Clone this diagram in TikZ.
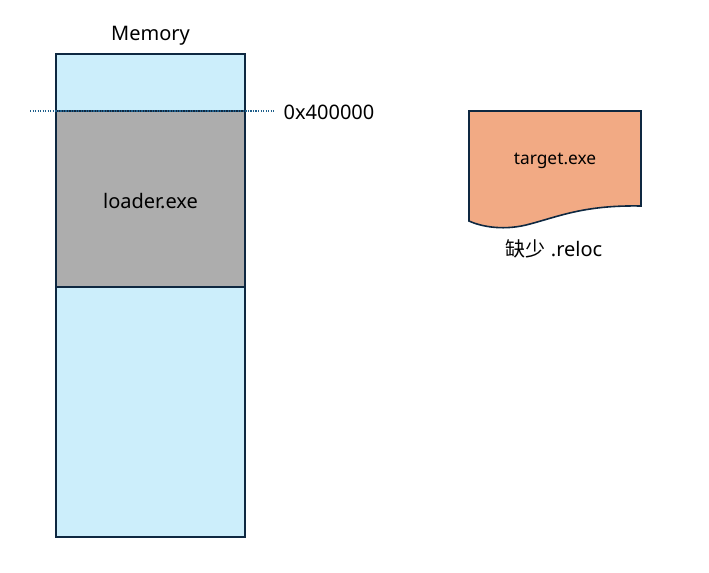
\documentclass[tikz,border=0pt]{standalone}
\usepackage{fontspec}
\setmainfont{Noto Sans}
\newfontfamily\cjk{Noto Sans CJK SC}
\usetikzlibrary{calc}
\definecolor{memblue}{HTML}{CCEEFB}
\definecolor{memgray}{HTML}{ADADAD}
\definecolor{edge}{HTML}{0E2841}
\definecolor{docorange}{HTML}{F2AA84}
\definecolor{dotblue}{HTML}{1F5F8B}

\begin{document}
\begin{tikzpicture}[x=0.75pt, y=-0.75pt]
%styles
\tikzstyle{textw}=[rectangle, text=black, font=\fontsize{15}{18}\selectfont]
\tikzstyle{textdoc}=[rectangle, text=black, font=\fontsize{13}{16}\selectfont]
\tikzstyle{block}=[draw=edge, line width=1.2pt]
\tikzstyle{marker}=[dotblue, densely dotted, line width=0.9pt]

\useasboundingbox (0,0) rectangle (709,573);

%memory column
\coordinate (m0) at (56,54);
\coordinate (m1) at (245,537);
\coordinate (g0) at (56,111);
\coordinate (g1) at (245,287);
\fill[memblue] (m0) rectangle (m1);
\fill[memgray] (g0) rectangle (g1);
\draw[block] (g0) -- (g0 -| m1);
\draw[block] (g1) -- (g1 -| m0);
\draw[block] (m0) rectangle (m1);

%base address
\coordinate (d0) at (30,111);
\coordinate (d1) at (274,111);
\draw[marker] (d0) -- (d1);

%target file
\filldraw[block, fill=docorange] (469,111) -- (641,111) -- (641,206)
  .. controls (585,205) and (560,216) .. (530,224)
  .. controls (505,231) and (482,227) .. (469,221) -- cycle;

%texts
\node[textw] (mem) at ($(m0 -| g1)!0.5!(m0)-(0,18)$) {Memory};
\node[textw] (base) at ($(d1)+(5,1)$) [anchor=west] {0x400000};
\node[textw] (loader) at ($(g0)!0.5!(g1)+(0,2)$) {loader.exe};
\node[textdoc] (target) at (555,161) {target.exe};
\node[textw] (reloc) at (554,249) {{\cjk 缺少} .reloc};
\end{tikzpicture}
\end{document}
